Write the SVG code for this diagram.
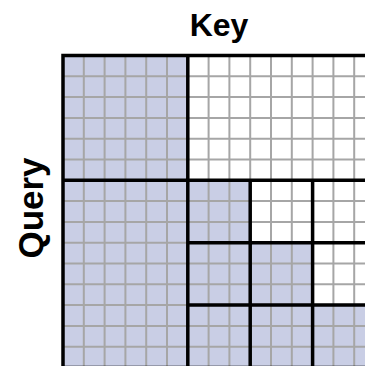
<svg xmlns="http://www.w3.org/2000/svg" width="365" height="366" viewBox="0 0 365 366">
  <style>
    .shade { fill: #C9CEE5; }
    .thin { stroke: #A6A6A6; stroke-width: 2; fill: none; }
    .thick { stroke: #000000; stroke-width: 3.5; fill: none; stroke-linecap: square; }
    .label { font-family: "Liberation Sans", Arial, sans-serif; font-weight: bold; font-size: 32px; fill: #000000; }
  </style>
  <rect x="0" y="0" width="365" height="366" fill="#FFFFFF"/>
  <g id="shading">
    <rect class="shade" x="63" y="55.5" width="124.8" height="312"/>
    <rect class="shade" x="187.8" y="180.3" width="62.4" height="187.2"/>
    <rect class="shade" x="250.2" y="242.7" width="62.4" height="124.8"/>
    <rect class="shade" x="312.6" y="305.1" width="62.4" height="62.4"/>
  </g>
  <g id="grid">
    <path class="thin" d="M83.8 55.5V367.5M104.6 55.5V367.5M125.4 55.5V367.5M146.2 55.5V367.5M167 55.5V367.5M208.6 55.5V367.5M229.4 55.5V367.5M250.2 55.5V367.5M271 55.5V367.5M291.8 55.5V367.5M312.6 55.5V367.5M333.4 55.5V367.5M354.2 55.5V367.5"/>
    <path class="thin" d="M63 76.3H375M63 97.1H375M63 117.9H375M63 138.7H375M63 159.5H375M63 201.1H375M63 221.9H375M63 242.7H375M63 263.5H375M63 284.3H375M63 305.1H375M63 325.9H375M63 346.7H375"/>
  </g>
  <g id="blocks">
    <path class="thick" d="M63 55.5H375M63 55.5V367.5M187.8 55.5V367.5M63 180.3H375M250.2 180.3V367.5M312.6 180.3V367.5M187.8 242.7H375M187.8 305.1H375M63 367.5H375"/>
  </g>
  <text id="key-label" class="label" x="219" y="36" text-anchor="middle">Key</text>
  <text id="query-label" class="label" text-anchor="middle" style="font-size:35px" transform="translate(43,208) rotate(-90)">Query</text>
</svg>
